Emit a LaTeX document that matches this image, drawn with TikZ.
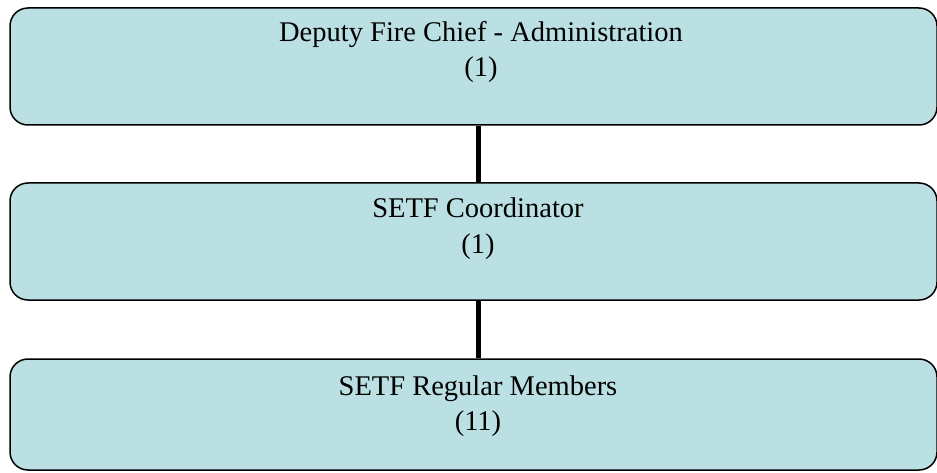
\documentclass[tikz,border=0pt]{standalone}
\usepackage{fontspec}
\setmainfont{Liberation Serif}
\usetikzlibrary{positioning}
\definecolor{boxfill}{RGB}{186,224,227}

\begin{document}
\begin{tikzpicture}[x=1pt, y=1pt]
		\tikzstyle{every node}=[font=\fontsize{28.5}{35}\selectfont]
		\tikzstyle{orgbox}=[draw=black, line width=1.5pt, fill=boxfill, rounded corners=18pt, minimum width=927pt, inner sep=0pt]
		\tikzstyle{orgtext}=[anchor=base, align=center, inner sep=0pt]
		\useasboundingbox (0,0) rectangle (937,472);
		\node [orgbox, minimum height=117pt] (chief) at (473.5,405.5) {};
		\node [orgbox, minimum height=117pt] (coord) at (473.5,230.5) {};
		\node [orgbox, minimum height=111pt] (members) at (473.5,57.5) {};
		\node [orgtext] (chieftext) at (481,395) {Deputy Fire Chief - Administration\\(1)};
		\node [orgtext] (coordtext) at (478,219) {SETF Coordinator\\(1)};
		\node [orgtext] (memberstext) at (478,42) {SETF Regular Members\\(11)};
		\draw [line width=5pt] ([xshift=4.5pt]chief.south) -- ([xshift=4.5pt]coord.north);
		\draw [line width=5pt] ([xshift=4.5pt]coord.south) -- ([xshift=4.5pt]members.north);
\end{tikzpicture}
\end{document}
